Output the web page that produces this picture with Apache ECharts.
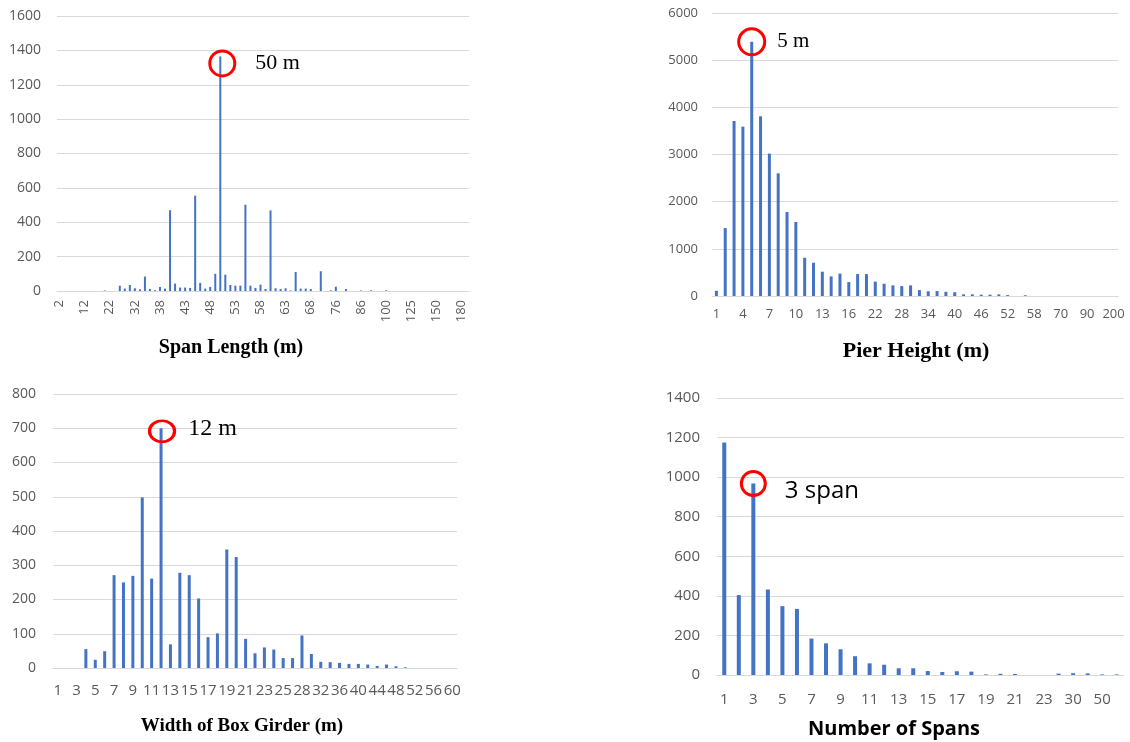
<!DOCTYPE html>
<html>
<head>
<meta charset="utf-8">
<script src="https://cdn.jsdelivr.net/npm/echarts@6/dist/echarts.min.js"></script>
<style>
html,body{margin:0;padding:0;background:#fff;}
#c{width:1130px;height:742px;}
</style>
</head>
<body>
<div id="c"></div>
<script>
// ---- Span length ----
const spanCats = ['2','4','6','8','10','12','14','16','18','20','22','24','25','28','30','32','33','35','36','37',
  '38','39','40','41','42','43','44','45','46','47','48','49','50','51','52','53','54','55','56','57','58','59','60','61','62','63','64','65','66','67','68',
  '69','70','72','75','76','78','80','82','84','86','88','90','95','98','100','105','110','115','120','125','130','135','140','145','150','155','160','165','170','180','200'];
const spanValues = [0,0,0,0,0,0,0,0,0,3,0,0,31,14,35,16,10,84,12,5,
  23,14,470,43,20,20,18,555,47,14,24,100,1365,95,35,31,31,502,31,18,37,12,469,16,12,16,3,111,14,14,12,
  0,115,0,4,25,0,12,0,0,3,0,4,0,0,4,0,0,0,0,0,0,0,0,0,0,0,0,0,0,0,0];

// ---- Pier height ----
const pierCats = ['1','2','3','4','5','6','7','8','9','10','11','12','13','14','15','16',
  '18','20','22','24','26','28','30','32','34','36','38','40','42','44','46','48','50','52','54','56','58',
  '60','65','70','75','80','90','100','150','200'];
const pierValues = [110,1440,3710,3590,5390,3810,3020,2600,1780,1570,810,705,515,415,475,295,
  465,465,305,260,225,210,225,125,100,105,90,80,35,35,28,28,35,20,0,15,0,
  0,0,0,0,0,0,0,0,0];

// ---- Width of box girder ----
const girderCats = ['1','2','3','4','5','6','7','8','9','10','11','12','13','14','15','16','17','18','19','20','21','22','23','24','25','26',
  '28','30','32','34','36','38','40','42','44','46','48','50','52','54','56','58','60'];
const girderValues = [0,0,0,55,24,49,271,250,269,498,261,700,69,278,271,203,90,101,346,324,85,43,60,54,29,29,
  95,41,18,17,15,12,12,10,6,10,5,2,0,0,0,0,0];

// ---- Number of spans ----
const spansCats = ['1','2','3','4','5','6','7','8','9','10','11','12','13','14','15','16','17','18','19','20','21','22','23','25','30','40','50','100'];
const spansValues = [1175,404,968,432,348,334,184,160,130,95,59,52,34,34,20,15,19,17,3,6,5,0,0,7,9,8,3,3];

// ---- Labels / annotations ----
const axisTitles = ['Span Length (m)', 'Pier Height (m)', 'Width of Box Girder (m)', 'Number of Spans'];
const peakNotes = ['50 m', '5 m', '12 m', '3 span'];

const BLUE = '#4472C4';
const GRIDC = '#D9D9D9';
const LABC = '#595959';
const SANS = '"Open Sans", "Noto Sans", sans-serif';
const SERIF = '"Liberation Serif", "DejaVu Serif", serif';

const grids = [
  {left: 57, top: 16, width: 412, height: 275},
  {left: 712, top: 13, width: 406, height: 283},
  {left: 53, top: 394, width: 404, height: 274},
  {left: 717, top: 398, width: 407, height: 277}
];

function xAx(i, cats, opts) {
  return {
    type: 'category', gridIndex: i, data: cats,
    axisTick: {show: false},
    axisLine: {lineStyle: {color: GRIDC, width: 1}},
    axisLabel: Object.assign({color: LABC, fontFamily: SANS}, opts)
  };
}
function yAx(i, max, interval, fs, margin) {
  return {
    type: 'value', gridIndex: i, min: 0, max: max, interval: interval,
    axisLine: {show: false}, axisTick: {show: false},
    splitLine: {lineStyle: {color: GRIDC, width: 1}},
    axisLabel: {color: LABC, fontFamily: SANS, fontSize: fs, margin: margin, formatter: v => String(v)}
  };
}
function peakIndex(arr) {
  let m = 0;
  arr.forEach((v, k) => { if (v > arr[m]) m = k; });
  return m;
}
function note(cats, vals, idx, text, opts) {
  return {
    symbol: 'circle', silent: true,
    data: [{
      coord: [cats[idx], vals[idx]],
      symbolSize: opts.size,
      symbolOffset: opts.offset || [0, 0],
      itemStyle: {color: 'rgba(0,0,0,0)', borderColor: '#FF0000', borderWidth: 3},
      label: Object.assign({show: true, position: 'right', formatter: text, color: '#000'}, opts.label)
    }]
  };
}

const i2 = peakIndex(pierValues);
const i3 = peakIndex(girderValues);
const i1 = peakIndex(spanValues);

const option = {
  animation: false,
  backgroundColor: '#fff',
  grid: grids.map(g => Object.assign({containLabel: false}, g)),
  xAxis: [
    xAx(0, spanCats, {interval: 4, rotate: 90, fontSize: 13, margin: 9}),
    xAx(1, pierCats, {interval: 2, fontSize: 13, margin: 12}),
    xAx(2, girderCats, {interval: 1, fontSize: 15, margin: 15}),
    xAx(3, spansCats, {interval: 1, fontSize: 15, margin: 17})
  ],
  yAxis: [
    yAx(0, 1600, 200, 14, 16),
    yAx(1, 6000, 1000, 13, 14),
    yAx(2, 800, 100, 14, 17),
    yAx(3, 1400, 200, 15, 17)
  ],
  series: [
    {type: 'bar', xAxisIndex: 0, yAxisIndex: 0, data: spanValues, barWidth: 2, itemStyle: {color: BLUE},
     markPoint: note(spanCats, spanValues, i1, peakNotes[0], {size: 25, offset: [2, 7],
       label: {distance: 19, fontFamily: SERIF, fontSize: 22}})},
    {type: 'bar', xAxisIndex: 1, yAxisIndex: 1, data: pierValues, barWidth: 3, itemStyle: {color: BLUE},
     markPoint: note(pierCats, pierValues, i2, peakNotes[1], {size: 26,
       label: {distance: 11, fontFamily: SERIF, fontSize: 21}})},
    {type: 'bar', xAxisIndex: 2, yAxisIndex: 2, data: girderValues, barWidth: 3, itemStyle: {color: BLUE},
     markPoint: note(girderCats, girderValues, i3, peakNotes[2], {size: [25, 21], offset: [1, 3],
       label: {distance: 12, fontFamily: SERIF, fontSize: 24, offset: [0, -3]}})},
    {type: 'bar', xAxisIndex: 3, yAxisIndex: 3, data: spansValues, barWidth: 4, itemStyle: {color: BLUE},
     markPoint: note(spansCats, spansValues, 2, peakNotes[3], {size: 24,
       label: {distance: 18, fontFamily: SANS, fontSize: 24, offset: [0, 8]}})}
  ],
  graphic: [
    {x: 231, y: 348, font: SERIF, size: 20, t: axisTitles[0]},
    {x: 916, y: 351, font: SERIF, size: 22, t: axisTitles[1]},
    {x: 242, y: 726, font: SERIF, size: 19, t: axisTitles[2]},
    {x: 894, y: 729, font: SANS, size: 20, t: axisTitles[3]}
  ].map(o => ({
    type: 'text', x: o.x, y: o.y, silent: true,
    style: {text: o.t, fontFamily: o.font, fontSize: o.size, fontWeight: 'bold', fill: '#000',
      align: 'center', verticalAlign: 'middle', textAlign: 'center', textVerticalAlign: 'middle'}
  }))
};

const chart = echarts.init(document.getElementById('c'), null, {renderer: 'canvas'});
chart.setOption(option);
</script>
</body>
</html>
